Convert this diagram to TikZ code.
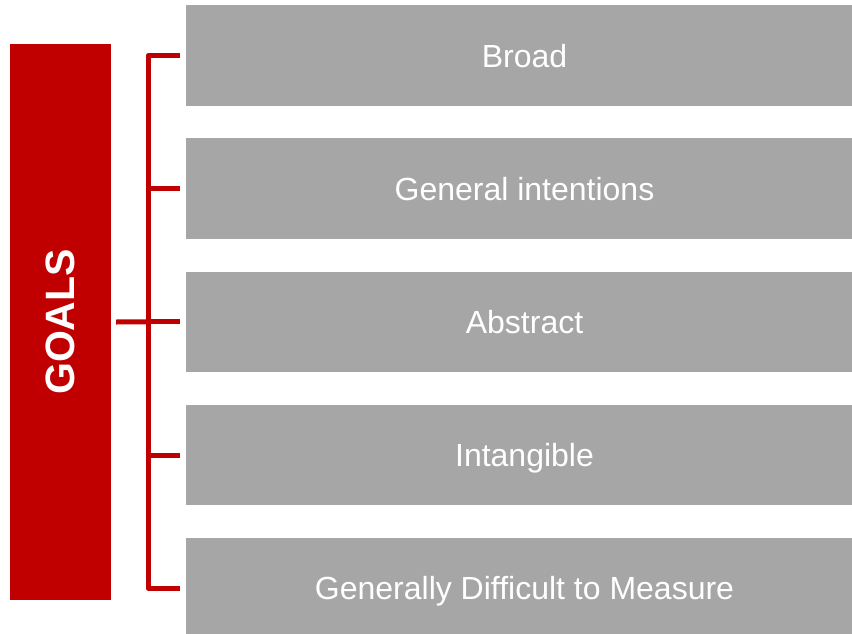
\documentclass[tikz,border=0pt]{standalone}
\usepackage{fontspec}
\setmainfont{Liberation Sans}
\usetikzlibrary{positioning}
\definecolor{goalred}{HTML}{C00000}
\definecolor{itemgrey}{HTML}{A6A6A6}
\begin{document}
\begin{tikzpicture}[x=1pt,y=-1pt]
\tikzset{item/.style={fill=itemgrey,text=white,inner sep=0pt,minimum width=677pt,minimum height=100.5pt,text depth=0pt,font=\fontsize{32}{38}\selectfont},
brace/.style={draw=goalred,line width=5pt,line join=round}}
\useasboundingbox (0,0) rectangle (852,634);
\clip (0,0) rectangle (852,634);
\node [fill=goalred,inner sep=0pt,minimum width=100.5pt,minimum height=556pt] (goals) at (60.25,322) {};
\node [rotate=90,text=white,font=\bfseries\fontsize{41}{48}\selectfont] (goalstext) at (goals.center) {GOALS};
\node [item] (broad) at (524.5,55.5) {Broad};
\node [item] (general) at (524.5,188.7) {General intentions};
\node [item] (abstract) at (524.5,321.9) {Abstract};
\node [item] (intangible) at (524.5,455.1) {Intangible};
\node [item] (measure) at (524.5,588.3) {Generally Difficult to Measure};
\draw [brace] ([xshift=-5.5pt]broad.west) -- ++(-32,0) |- ([xshift=-5.5pt]measure.west);
\foreach \n in {general,abstract,intangible}
  \draw [brace] ([xshift=-5.5pt]\n.west) -- ++(-32,0);
\draw [brace] ([xshift=5.5pt]goals.east) -- ([xshift=-37.5pt]abstract.west);
\end{tikzpicture}
\end{document}
